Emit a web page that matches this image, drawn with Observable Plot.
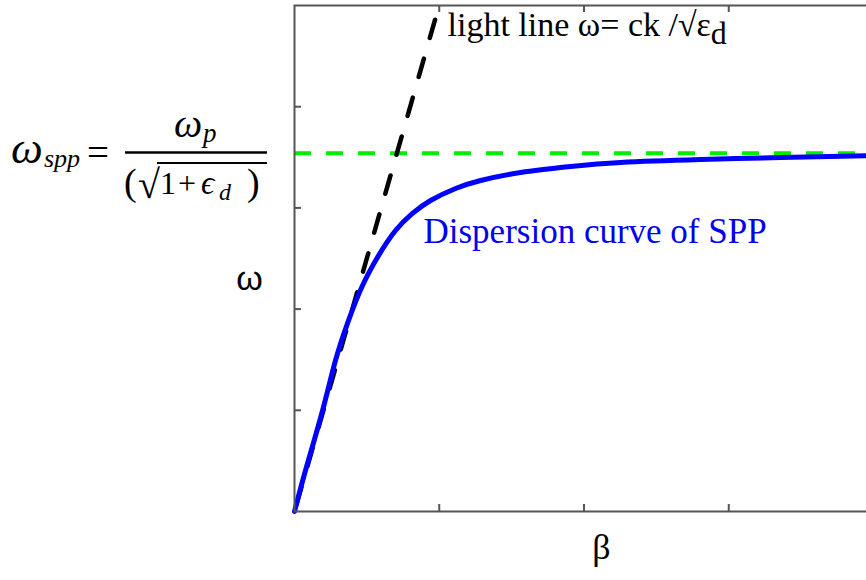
<!DOCTYPE html>
<html>
<head>
<meta charset="utf-8">
<script src="https://cdn.jsdelivr.net/npm/d3@7"></script>
<script src="https://cdn.jsdelivr.net/npm/@observablehq/plot@0.6"></script>
<style>
  html, body { margin: 0; padding: 0; background: #fff; overflow: hidden; }
  #chart { position: relative; width: 866px; height: 580px; overflow: hidden; }
  #chart svg { max-width: none !important; display: block; }
</style>
</head>
<body>
<div id="chart"></div>
<script>
// SPP dispersion branch: propagation constant β and frequency ω (normalised units)
const betaSpp  = [0, 0.076, 0.194, 0.283, 0.373, 0.470, 0.581, 0.698, 0.815, 0.940, 1.113, 1.286, 1.562, 1.907, 2.253, 2.806, 3.359, 4.0];
const omegaSpp = [0, 0.405, 0.998, 1.492, 1.887, 2.233, 2.530, 2.777, 2.945, 3.073, 3.192, 3.271, 3.350, 3.409, 3.449, 3.478, 3.498, 3.518];

// Light line in the dielectric, ω = ck/√εd
const betaLight  = [0, 0.971];
const omegaLight = [0, 4.86];

// Surface plasmon asymptote ω_sp
const omegaSp = [3.54];

// Unlabelled tick positions
const betaTicks  = [1, 2, 3];
const omegaTicks = [1, 2, 3, 4];

// Text
const lightLabel = "light line ω= ck /√ε";
const lightSub   = "d";
const sppLabel   = "Dispersion curve of SPP";
const yLabel     = "ω";
const xLabel     = "β";

const spp   = betaSpp.map((b, i) => ({beta: b, omega: omegaSpp[i]}));
const light = betaLight.map((b, i) => ({beta: b, omega: omegaLight[i]}));

const W = 880, H = 580;
const mL = 294, mR = 7, mT = 5, mB = 69;
const innerW = W - mL - mR, innerH = H - mT - mB;
const tick = 7;
const axisGrey = "#555";
const serif = "'Liberation Serif', 'Times New Roman', serif";
const sans = "'Liberation Sans', Arial, sans-serif";

const chart = Plot.plot({
  width: W, height: H,
  marginLeft: mL, marginRight: mR, marginTop: mT, marginBottom: mB,
  style: {background: "#fff", maxWidth: "none", overflow: "visible"},
  x: {domain: [0, 4], axis: null},
  y: {domain: [0, 5], axis: null},
  marks: [
    Plot.ruleY(omegaSp, {stroke: "#00ee00", strokeWidth: 4, strokeDasharray: "17,15"}),
    Plot.line(light, {x: "beta", y: "omega", stroke: "#000", strokeWidth: 4.5, strokeDasharray: "19,21.5", strokeDashoffset: 34}),
    Plot.line(spp, {x: "beta", y: "omega", stroke: "#0000ff", strokeWidth: 5, curve: "natural"}),
    // inward ticks on all four sides
    Plot.tickX(betaTicks, {x: d => d, stroke: axisGrey, strokeWidth: 2, insetTop: innerH - tick}),
    Plot.tickX(betaTicks, {x: d => d, stroke: axisGrey, strokeWidth: 2, insetBottom: innerH - tick}),
    Plot.tickY(omegaTicks, {y: d => d, stroke: axisGrey, strokeWidth: 2, insetRight: innerW - tick}),
    Plot.tickY(omegaTicks, {y: d => d, stroke: axisGrey, strokeWidth: 2, insetLeft: innerW - tick}),
    Plot.frame({stroke: axisGrey, strokeWidth: 2}),
    // labels
    Plot.text([lightLabel], {x: 1.057, y: 4.811, text: d => d, textAnchor: "start", fontSize: 34, fontFamily: serif, fill: "#000"}),
    Plot.text([sppLabel], {x: 0.891, y: 2.767, text: d => d, textAnchor: "start", fontSize: 35, fontFamily: serif, fill: "#0000ee"}),
    Plot.text([yLabel], {frameAnchor: "left", y: 2.30, dx: -45, textAnchor: "middle", text: d => d, fontSize: 34, fontFamily: sans, fill: "#000"}),
    Plot.text([xLabel], {frameAnchor: "bottom", x: 2.12, dy: 47, text: d => d, fontSize: 36, fontFamily: serif, fill: "#000"})
  ]
});

document.getElementById("chart").appendChild(chart);
const svg = d3.select(chart);

// subscript d on εd of the light-line label
svg.selectAll("text").filter(function () { return this.textContent === lightLabel; })
  .append("tspan").attr("dy", "0.28em").attr("font-size", 32).text(lightSub);

// ω_spp = ω_p / (√(1 + ε_d)) written in the left margin
const f = svg.append("g").attr("font-family", serif).attr("fill", "#000").attr("text-anchor", "start");
f.append("text").attr("x", 11).attr("y", 163).attr("font-size", 45).attr("font-style", "italic").text("ω");
f.append("text").attr("x", 44).attr("y", 167).attr("font-size", 26).attr("font-style", "italic").text("spp");
f.append("text").attr("x", 87).attr("y", 166).attr("font-size", 39).text("=");
f.append("line").attr("x1", 125).attr("x2", 267).attr("y1", 152.5).attr("y2", 152.5).attr("stroke", "#000").attr("stroke-width", 2.5);
f.append("text").attr("x", 174).attr("y", 137).attr("font-size", 40).attr("font-style", "italic").text("ω");
f.append("text").attr("x", 203).attr("y", 142).attr("font-size", 27).attr("font-style", "italic").text("p");
f.append("text").attr("x", 124).attr("y", 195).attr("font-size", 38).text("(");
f.append("text").attr("x", 138).attr("y", 198).attr("font-size", 40).text("√");
f.append("line").attr("x1", 157).attr("x2", 267).attr("y1", 163).attr("y2", 163).attr("stroke", "#000").attr("stroke-width", 2);
f.append("text").attr("x", 160).attr("y", 194).attr("font-size", 32).text("1");
f.append("text").attr("x", 178).attr("y", 194).attr("font-size", 32).text("+");
f.append("text").attr("x", 201).attr("y", 194).attr("font-size", 33).attr("font-style", "italic").text("ϵ");
f.append("text").attr("x", 219).attr("y", 200).attr("font-size", 24).attr("font-style", "italic").text("d");
f.append("text").attr("x", 247).attr("y", 195).attr("font-size", 38).text(")");
</script>
</body>
</html>
